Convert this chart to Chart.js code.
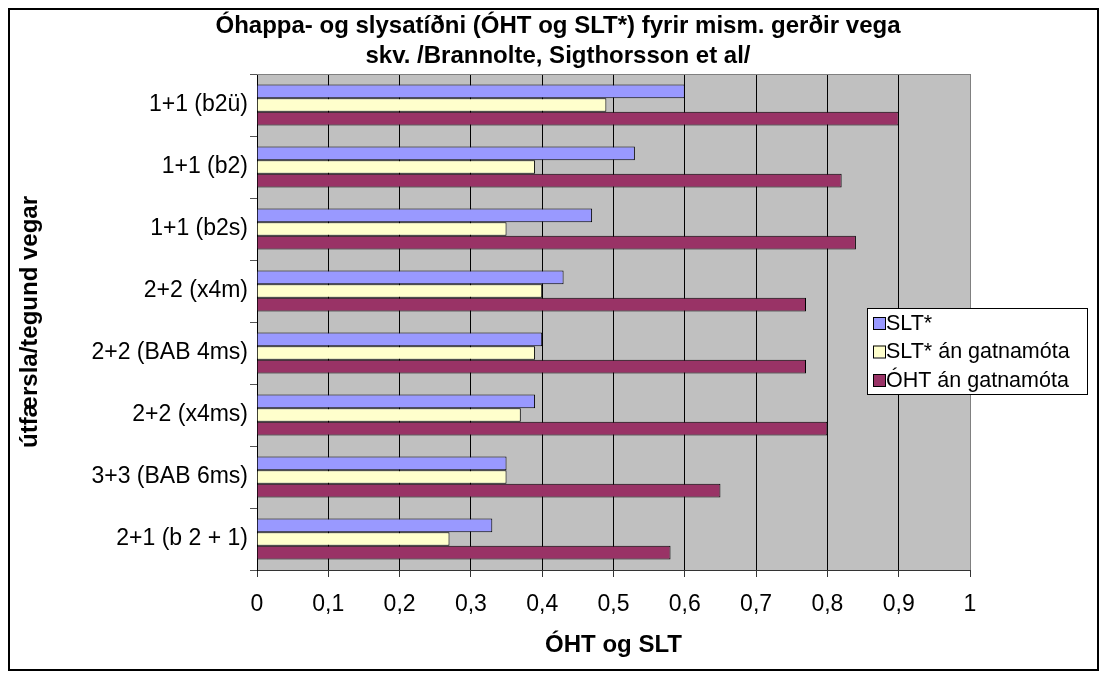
<!DOCTYPE html>
<html lang="is">
<head>
<meta charset="UTF-8">
<title>Óhappa- og slysatíðni</title>
<script src="https://cdn.jsdelivr.net/npm/chart.js"></script>
<style>
  body { margin: 0; background: #fff; }
  #wrap { width: 1109px; height: 681px; position: relative; }
</style>
</head>
<body>
<div id="wrap"><canvas id="chart"></canvas></div>
<script>
const roadTypes = ["1+1 (b2ü)", "1+1 (b2)", "1+1 (b2s)", "2+2 (x4m)", "2+2 (BAB 4ms)", "2+2 (x4ms)", "3+3 (BAB 6ms)", "2+1 (b 2 + 1)"];
const slt = [0.60, 0.53, 0.47, 0.43, 0.40, 0.39, 0.35, 0.33];
const sltNoJunctions = [0.49, 0.39, 0.35, 0.40, 0.39, 0.37, 0.35, 0.27];
const ohtNoJunctions = [0.90, 0.82, 0.84, 0.77, 0.77, 0.80, 0.65, 0.58];
const seriesNames = ["SLT*", "SLT* án gatnamóta", "ÓHT án gatnamóta"];
const seriesColors = ["#9999ff", "#ffffcc", "#993366"];
const xTickLabels = ["0", "0,1", "0,2", "0,3", "0,4", "0,5", "0,6", "0,7", "0,8", "0,9", "1"];
const titleLines = ["Óhappa- og slysatíðni (ÓHT og SLT*) fyrir mism. gerðir vega", "skv. /Brannolte, Sigthorsson et al/"];

const FONT = '"Liberation Sans", Arial, sans-serif';

// grey plot area, frame, outer border and title
const plotFrame = {
  id: 'plotFrame',
  beforeDraw(chart) {
    const {ctx, chartArea: a} = chart;
    ctx.save();
    ctx.fillStyle = '#fff';
    ctx.fillRect(0, 0, chart.width, chart.height);
    ctx.fillStyle = '#c0c0c0';
    ctx.fillRect(a.left, a.top, a.right - a.left, a.bottom - a.top);
    ctx.restore();
  },
  afterDraw(chart) {
    const {ctx, chartArea: a} = chart;
    ctx.save();
    ctx.strokeStyle = '#808080';
    ctx.lineWidth = 1;
    ctx.beginPath();
    ctx.moveTo(a.left, a.top + 0.5);
    ctx.lineTo(a.right + 0.5, a.top + 0.5);
    ctx.lineTo(a.right + 0.5, a.bottom);
    ctx.stroke();
    ctx.strokeStyle = '#000';
    ctx.lineWidth = 2;
    ctx.strokeRect(9, 9, 1089, 661);
    ctx.fillStyle = '#000';
    ctx.font = 'bold 24px ' + FONT;
    ctx.textAlign = 'center';
    ctx.textBaseline = 'middle';
    titleLines.forEach((t, i) => ctx.fillText(t, 558, 26 + i * 30));
    ctx.restore();
  }
};

// legend box inside the plot
const boxLegend = {
  id: 'boxLegend',
  afterDraw(chart) {
    const ctx = chart.ctx;
    const x = 867, y = 308, w = 220, h = 86;
    ctx.save();
    ctx.fillStyle = '#fff';
    ctx.fillRect(x, y, w, h);
    ctx.strokeStyle = '#000';
    ctx.lineWidth = 1;
    ctx.strokeRect(x + 0.5, y + 0.5, w, h);
    ctx.font = '21.5px ' + FONT;
    ctx.textBaseline = 'middle';
    ctx.textAlign = 'left';
    chart.data.datasets.forEach((ds, i) => {
      const cy = y + 15 + i * 28.5;
      ctx.fillStyle = ds.backgroundColor;
      ctx.fillRect(x + 6, cy - 6, 12, 12);
      ctx.strokeRect(x + 6.5, cy - 5.5, 12, 12);
      ctx.fillStyle = '#000';
      ctx.fillText(ds.label, x + 19, cy + 1);
    });
    ctx.restore();
  }
};

new Chart(document.getElementById('chart'), {
  type: 'bar',
  data: {
    labels: roadTypes,
    datasets: [slt, sltNoJunctions, ohtNoJunctions].map((d, i) => ({
      label: seriesNames[i],
      data: d,
      backgroundColor: seriesColors[i],
      borderColor: '#000',
      borderWidth: 1,
      categoryPercentage: 0.66,
      barPercentage: 1.0
    }))
  },
  options: {
    indexAxis: 'y',
    responsive: true,
    maintainAspectRatio: false,
    animation: false,
    layout: { padding: { top: 74, right: 139, bottom: 0, left: 0 } },
    plugins: {
      legend: { display: false },
      title: { display: false },
      tooltip: { enabled: false }
    },
    scales: {
      x: {
        min: 0,
        max: 1,
        afterFit(s) { s.height = 111; },
        ticks: {
          stepSize: 0.1,
          color: '#000',
          font: { size: 23, family: FONT },
          padding: 14,
          callback: (v, i) => xTickLabels[i]
        },
        grid: {
          color: (c) => (c.index === 10 ? '#808080' : '#000'),
          lineWidth: 1,
          tickLength: 7,
          tickColor: '#333'
        },
        border: { color: '#333', width: 1 },
        title: {
          display: true,
          text: 'ÓHT og SLT',
          color: '#000',
          font: { size: 24, weight: 'bold', family: FONT },
          padding: { top: 0, bottom: 21 }
        }
      },
      y: {
        afterFit(s) { s.width = 257; },
        ticks: {
          color: '#000',
          font: { size: 23, family: FONT },
          padding: 2
        },
        grid: {
          drawOnChartArea: false,
          tickLength: 7,
          color: '#555'
        },
        border: { color: '#000', width: 1 },
        title: {
          display: true,
          text: 'útfærsla/tegund vegar',
          color: '#000',
          font: { size: 24, weight: 'bold', family: FONT },
          padding: { top: 16, bottom: 0 }
        }
      }
    }
  },
  plugins: [plotFrame, boxLegend]
});
</script>
</body>
</html>
